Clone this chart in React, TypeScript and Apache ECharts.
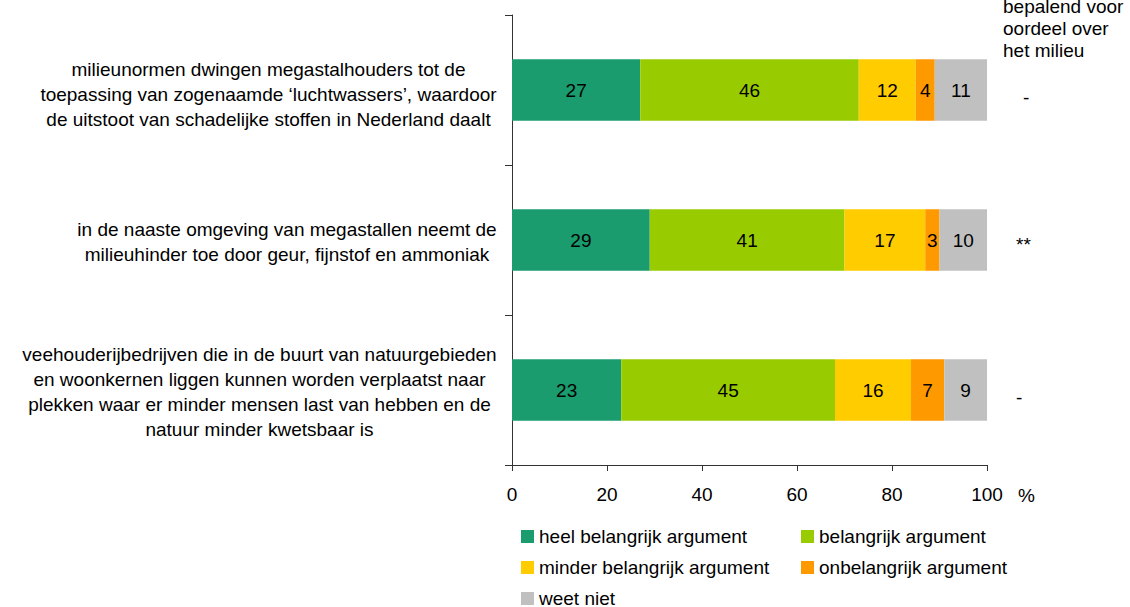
import React, { useEffect, useRef } from "react";
import * as echarts from "echarts";

const categories: string[][] = [
  [
    "milieunormen dwingen megastalhouders tot de",
    "toepassing van zogenaamde ‘luchtwassers’, waardoor",
    "de uitstoot van schadelijke stoffen in Nederland daalt",
  ],
  [
    "in de naaste omgeving van megastallen neemt de",
    "milieuhinder toe door geur, fijnstof en ammoniak",
  ],
  [
    "veehouderijbedrijven die in de buurt van natuurgebieden",
    "en woonkernen liggen kunnen worden verplaatst naar",
    "plekken waar er minder mensen last van hebben en de",
    "natuur minder kwetsbaar is",
  ],
];

const seriesNames = [
  "heel belangrijk argument",
  "belangrijk argument",
  "minder belangrijk argument",
  "onbelangrijk argument",
  "weet niet",
];

const heelBelangrijk = [27, 29, 23];
const belangrijk = [46, 41, 45];
const minderBelangrijk = [12, 17, 16];
const onbelangrijk = [4, 3, 7];
const weetNiet = [11, 10, 9];

const significance = ["-", "**", "-"];
const sigHeader = ["bepalend voor", "oordeel over", "het milieu"];
const xTicks = [0, 20, 40, 60, 80, 100];

const colors = ["#1A9C6F", "#99CC00", "#FFCC00", "#FF9900", "#C0C0C0"];
const FONT = "'Liberation Sans', Arial, sans-serif";
const FS = 19;

function measure(text: string): number {
  const c = document.createElement("canvas");
  const ctx = c.getContext("2d")!;
  ctx.font = `${FS}px ${FONT}`;
  return ctx.measureText(text).width;
}

export default function App() {
  const ref = useRef<HTMLDivElement>(null);
  useEffect(() => {
    if (!ref.current) return;
    const chart = echarts.init(ref.current, undefined, { renderer: "svg" });
    const values = [heelBelangrijk, belangrijk, minderBelangrijk, onbelangrijk, weetNiet];
    const rich: any = {};
    const padTop = [8, 4, 4];
    categories.forEach((lines, i) => {
      const w = Math.ceil(Math.max(...lines.map(measure)));
      rich["c" + i] = {
        width: w,
        align: "center",
        fontSize: FS,
        lineHeight: 25,
        color: "#000",
        fontFamily: FONT,
      };
      rich["p" + i] = { height: padTop[i], lineHeight: padTop[i], fontSize: 1 };
    });
    const gridTop = 15;
    const gridH = 450;
    const band = gridH / categories.length;
    const graphics: any[] = [];
    significance.forEach((s, i) => {
      const isStar = s === "**";
      graphics.push({
        type: "text",
        x: isStar ? 1016 : i === 0 ? 1023 : 1016,
        y: gridTop + band * i + band / 2 + (isStar ? 4 : i === 0 ? 7 : 7),
        style: {
          text: s,
          fontSize: FS,
          fill: "#000",
          fontFamily: FONT,
          verticalAlign: "middle",
        },
      });
    });
    graphics.push({
      type: "text",
      x: 1003,
      y: -5,
      style: {
        text: sigHeader.join("\n"),
        fontSize: FS,
        lineHeight: 22,
        fill: "#000",
        fontFamily: FONT,
      },
    });
    graphics.push({
      type: "text",
      x: 1018,
      y: 495,
      style: { text: "%", fontSize: FS, fill: "#000", fontFamily: FONT, verticalAlign: "middle" },
    });

    // legend layout: two columns, three rows
    const legendPos = [
      { left: 521, top: 527 },
      { left: 801, top: 527 },
      { left: 521, top: 558 },
      { left: 801, top: 558 },
      { left: 521, top: 589 },
    ];
    const legends = seriesNames.map((name, i) => ({
      ...legendPos[i],
      orient: "horizontal",
      padding: 0,
      itemWidth: 13,
      itemHeight: 13,
      icon: "rect",
      data: [name],
      textStyle: { fontSize: FS, color: "#000", fontFamily: FONT },
    }));

    chart.setOption({
      animation: false,
      textStyle: { fontFamily: FONT },
      grid: { left: 512, top: gridTop, width: 475, height: gridH, containLabel: false },
      legend: legends,
      xAxis: {
        type: "value",
        min: xTicks[0],
        max: xTicks[xTicks.length - 1],
        interval: xTicks[1] - xTicks[0],
        axisLine: { show: true, lineStyle: { color: "#333", width: 1 } },
        axisTick: { show: true, length: 6, lineStyle: { color: "#333" } },
        axisLabel: { fontSize: FS, color: "#000", margin: 20, fontFamily: FONT },
        splitLine: { show: false },
      },
      yAxis: {
        type: "category",
        inverse: true,
        data: categories.map((c) => c.join(" ")),
        axisLine: { show: true, lineStyle: { color: "#333", width: 1 } },
        axisTick: { show: true, length: 7, lineStyle: { color: "#333" } },
        axisLabel: {
          margin: 15,
          align: "right",
          formatter: (_v: string, idx: number) =>
            `{p${idx}|}\n` + categories[idx].map((l) => `{c${idx}|${l}}`).join("\n"),
          rich,
        },
      },
      series: seriesNames.map((name, si) => ({
        name,
        type: "bar",
        stack: "total",
        barWidth: "41%",
        data: values[si],
        itemStyle: { color: colors[si] },
        label: {
          show: true,
          position: "inside",
          fontSize: FS,
          color: "#000",
          fontFamily: FONT,
        },
      })),
      graphic: graphics,
    });
    return () => chart.dispose();
  }, []);
  return <div ref={ref} style={{ width: 1130, height: 607, position: "absolute", left: 0, top: 0 }} />;
}
